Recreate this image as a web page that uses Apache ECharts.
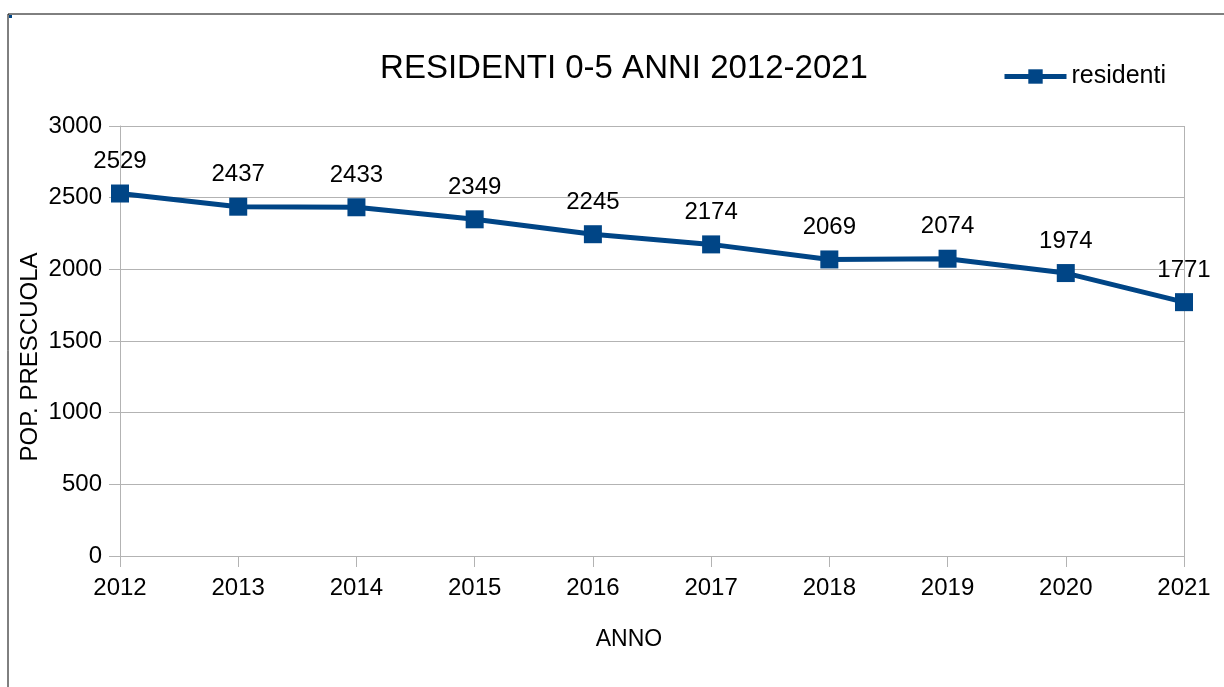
<!DOCTYPE html>
<html>
<head>
<meta charset="utf-8">
<script src="https://cdn.jsdelivr.net/npm/echarts@6/dist/echarts.min.js"></script>
<style>
  html, body { margin: 0; padding: 0; background: #fff; }
  #chart { width: 1224px; height: 687px; }
</style>
</head>
<body>
<div id="chart"></div>
<script>
// dati
var anni = ['2012', '2013', '2014', '2015', '2016', '2017', '2018', '2019', '2020', '2021'];
var residenti = [2529, 2437, 2433, 2349, 2245, 2174, 2069, 2074, 1974, 1771];
var yTicks = [0, 500, 1000, 1500, 2000, 2500, 3000];

var font = '"Liberation Sans", Arial, sans-serif';
var blu = '#004586';
var grigio = '#b3b3b3';

var chart = echarts.init(document.getElementById('chart'));
var option = {
    backgroundColor: '#fff',
    animation: false,
    textStyle: { fontFamily: font },
    title: {
        text: 'RESIDENTI 0-5 ANNI 2012-2021',
        left: 619,
        top: 47,
        textAlign: 'center',
        textStyle: { fontFamily: font, fontSize: 33, fontWeight: 'normal', color: '#000' }
    },
    legend: {
        data: ['residenti'],
        left: 997,
        top: 59,
        itemWidth: 62,
        itemHeight: 18,
        itemGap: 10,
        lineStyle: { width: 5 },
        textStyle: { fontFamily: font, fontSize: 25, color: '#000' }
    },
    grid: { left: 120, right: 40, top: 126, bottom: 131 },
    xAxis: {
        type: 'category',
        data: anni,
        boundaryGap: false,
        name: 'ANNO',
        nameLocation: 'middle',
        nameGap: 72,
        nameMoveOverlap: false,
        nameTextStyle: { fontFamily: font, fontSize: 23, color: '#000', padding: [0, 46, 0, 0] },
        axisLine: { lineStyle: { color: grigio, width: 1 } },
        axisTick: { length: 11, lineStyle: { color: grigio } },
        axisLabel: { fontFamily: font, fontSize: 24, color: '#000', margin: 20 },
        splitLine: { show: false }
    },
    yAxis: {
        type: 'value',
        min: yTicks[0],
        max: yTicks[yTicks.length - 1],
        interval: 500,
        name: 'POP. PRESCUOLA',
        nameLocation: 'middle',
        nameGap: 78,
        nameMoveOverlap: false,
        nameTextStyle: { fontFamily: font, fontSize: 24, color: '#000', padding: [0, 32, 0, 0] },
        axisLine: { show: true, lineStyle: { color: grigio, width: 1 } },
        axisTick: { show: true, length: 11, lineStyle: { color: grigio } },
        axisLabel: {
            fontFamily: font, fontSize: 24, color: '#000', margin: 18,
            formatter: function (v) { return String(v); }
        },
        splitLine: { show: true, lineStyle: { color: grigio, width: 1 } }
    },
    graphic: [
        // cornice esterna (solo bordo superiore e sinistro visibili)
        { type: 'line', shape: { x1: 8, y1: 14, x2: 1224, y2: 14 }, style: { stroke: '#000', lineWidth: 1 } },
        { type: 'line', shape: { x1: 8, y1: 14, x2: 8, y2: 687 }, style: { stroke: '#000', lineWidth: 1 } },
        { type: 'rect', shape: { x: 9, y: 15, width: 3, height: 3 }, style: { fill: blu } },
        // bordo destro dell'area del grafico
        { type: 'line', shape: { x1: 1184.5, y1: 126, x2: 1184.5, y2: 556 }, style: { stroke: grigio, lineWidth: 1 } }
    ],
    series: [
        {
            name: 'residenti',
            type: 'line',
            data: residenti,
            symbol: 'rect',
            symbolSize: 18,
            itemStyle: { color: blu },
            lineStyle: { color: blu, width: 5 },
            label: {
                show: true,
                position: 'top',
                distance: 11,
                fontFamily: font,
                fontSize: 24,
                color: '#000'
            }
        }
    ]
};
chart.setOption(option);
</script>
</body>
</html>
